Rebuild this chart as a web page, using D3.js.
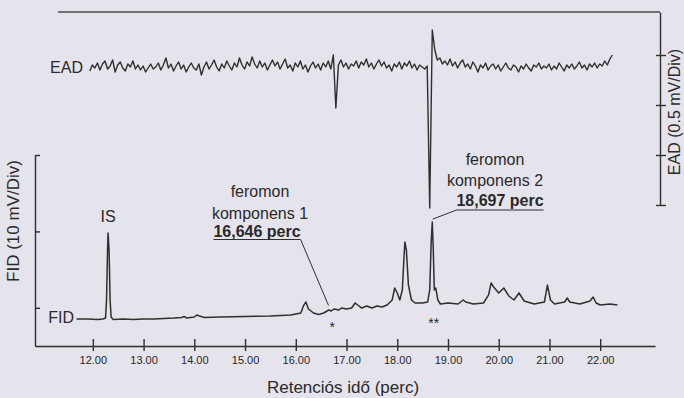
<!DOCTYPE html>
<html>
<head>
<meta charset="utf-8">
<script src="https://cdn.jsdelivr.net/npm/d3@7"></script>
<style>
  html, body { margin: 0; padding: 0; background: #e5e3eb; }
  svg { display: block; font-family: "Liberation Sans", Arial, sans-serif; }
  .axis path, .axis line { stroke: #2f2f2f; stroke-width: 1.4; }
  .axis text { fill: #262626; font-size: 11px; }
</style>
</head>
<body>
<svg id="chart" width="684" height="398"></svg>
<script>
// x axis ticks (retention time, minutes)
const xTicks = [12, 13, 14, 15, 16, 17, 18, 19, 20, 21, 22];

// FID trace: retention time (min) and signal (mV)
const fidTime = [11.68, 11.90, 12.10, 12.20, 12.25, 12.27, 12.29, 12.30, 12.32, 12.34, 12.36, 12.40,
  12.60, 12.80, 13.00, 13.20, 13.40, 13.60, 13.75, 13.80, 13.85, 14.00, 14.05, 14.10, 14.20,
  14.50, 15.00, 15.50, 15.90, 16.10, 16.15, 16.20, 16.25, 16.35, 16.45, 16.55, 16.65, 16.70,
  16.75, 16.85, 16.90, 17.00, 17.10, 17.17, 17.22, 17.30, 17.40, 17.50, 17.60, 17.70, 17.80,
  17.90, 17.95, 18.00, 18.05, 18.10, 18.13, 18.15, 18.18, 18.22, 18.28, 18.35, 18.50, 18.60,
  18.64, 18.67, 18.69, 18.71, 18.73, 18.76, 18.80, 18.85, 19.00, 19.20, 19.30, 19.35, 19.50,
  19.70, 19.80, 19.85, 19.90, 20.00, 20.10, 20.20, 20.30, 20.40, 20.50, 20.70, 20.90, 20.96,
  21.02, 21.10, 21.30, 21.35, 21.40, 21.60, 21.80, 21.86, 21.92, 22.00, 22.20, 22.34];
const fidSignal = [8.53, 8.53, 8.47, 8.53, 8.66, 11.02, 17.57, 19.79, 17.57, 11.02, 8.80, 8.47,
  8.53, 8.47, 8.53, 8.53, 8.60, 8.66, 8.73, 8.86, 8.66, 8.80, 9.06, 8.93, 8.73,
  8.80, 8.86, 8.93, 9.06, 9.32, 10.24, 10.76, 9.84, 9.32, 9.12, 9.32, 9.71, 9.58,
  9.84, 9.71, 9.97, 9.84, 9.97, 10.63, 10.37, 9.97, 10.24, 9.97, 10.24, 10.10, 10.37,
  11.02, 12.59, 11.94, 11.02, 12.33, 16.26, 18.61, 17.57, 12.98, 11.02, 10.63, 10.63, 10.76,
  12.33, 18.87, 21.23, 17.57, 12.33, 12.59, 11.02, 10.50, 10.63, 10.50, 11.02, 10.76, 10.50,
  10.63, 11.68, 13.25, 12.72, 11.94, 12.59, 11.54, 11.02, 11.94, 10.89, 10.50, 10.76, 12.98,
  11.02, 10.50, 10.76, 11.28, 10.76, 10.50, 10.89, 11.41, 10.63, 10.37, 10.50, 10.37];

// EAD trace: one reading every 0.05 min from 11.94 min (mV)
const eadStart = 11.94;
const eadStep = 0.05;
const eadSignal = [
  1.34, 1.40, 1.37, 1.42, 1.35, 1.41, 1.44, 1.36, 1.39, 1.45, 1.33, 1.40, 1.43, 1.37, 1.34, 1.41, 1.38, 1.44, 1.36, 1.40,
  1.35, 1.39, 1.33, 1.37, 1.41, 1.36, 1.38, 1.42, 1.35, 1.40, 1.47, 1.37, 1.41, 1.34, 1.39, 1.43, 1.36, 1.40, 1.33, 1.38,
  1.42, 1.37, 1.35, 1.41, 1.30, 1.38, 1.43, 1.36, 1.40, 1.45, 1.38, 1.34, 1.41, 1.37, 1.44, 1.39, 1.35, 1.42, 1.38, 1.47,
  1.40, 1.36, 1.43, 1.39, 1.48, 1.41, 1.37, 1.44, 1.38, 1.42, 1.35, 1.40, 1.45, 1.39, 1.43, 1.36, 1.41, 1.46, 1.37, 1.40,
  1.34, 1.42, 1.38, 1.44, 1.36, 1.40, 1.33, 1.39, 1.43, 1.37, 1.41, 1.35, 1.42, 1.38, 1.44, 1.36, 1.50, 0.97, 1.40, 1.45,
  1.38, 1.42, 1.36, 1.41, 1.39, 1.44, 1.37, 1.43, 1.40, 1.46, 1.38, 1.42, 1.36, 1.41, 1.45, 1.39, 1.43, 1.37, 1.40, 1.34,
  1.41, 1.38, 1.43, 1.36, 1.42, 1.39, 1.44, 1.37, 1.41, 1.35, 1.40, 1.38, 1.36, 1.39, -0.03, 1.75, 1.55, 1.45, 1.47, 1.41,
  1.44, 1.40, 1.46, 1.39, 1.43, 1.37, 1.42, 1.45, 1.38, 1.41, 1.36, 1.43, 1.39, 1.33, 1.40, 1.37, 1.42, 1.35, 1.39, 1.41,
  1.36, 1.40, 1.34, 1.38, 1.42, 1.37, 1.35, 1.40, 1.38, 1.33, 1.39, 1.36, 1.41, 1.37, 1.34, 1.40, 1.38, 1.42, 1.36, 1.39,
  1.37, 1.41, 1.35, 1.39, 1.36, 1.42, 1.38, 1.34, 1.40, 1.37, 1.41, 1.36, 1.39, 1.43, 1.37, 1.40, 1.35, 1.41, 1.38, 1.42,
  1.37, 1.41, 1.39, 1.44, 1.40, 1.46, 1.50];

// axis ticks (unlabelled divisions)
const fidTicks = [10, 20, 30];
const eadTicks = [0, 0.5, 1, 1.5];

const svg = d3.select("#chart");
const ink = "#2f2f2f";

const xScale = d3.scaleLinear().domain([10.86, 23.08]).range([35, 655]);
const yFid = d3.scaleLinear().domain([5, 30]).range([346, 155]);
const yEad = d3.scaleLinear().domain([0, 1.93]).range([205, 12]);

// x axis
const xAxis = svg.append("g")
  .attr("class", "axis")
  .attr("transform", "translate(0,346)")
  .call(d3.axisBottom(xScale).tickValues(xTicks).tickSize(5).tickSizeOuter(0)
    .tickPadding(5).tickFormat(d3.format(".2f")));
xAxis.selectAll(".tick line").attr("y1", -7);

// FID axis (left)
const fidAxis = svg.append("g")
  .attr("class", "axis")
  .attr("transform", "translate(35,0)")
  .call(d3.axisLeft(yFid).tickValues(fidTicks).tickSize(6).tickSizeOuter(0).tickFormat(""));
fidAxis.selectAll(".tick line").attr("x2", 5);

// EAD axis (right)
const eadAxis = svg.append("g")
  .attr("class", "axis")
  .attr("transform", "translate(660,0)")
  .call(d3.axisRight(yEad).tickValues(eadTicks).tickSize(6).tickSizeOuter(0).tickFormat(""));
eadAxis.selectAll(".tick line").attr("x1", -4);

// top frame line
svg.append("line")
  .attr("x1", 58).attr("x2", 660)
  .attr("y1", yEad(1.93)).attr("y2", yEad(1.93))
  .attr("stroke", "#4a4a4a").attr("stroke-width", 1.6);

// traces
const fidData = fidTime.map((t, i) => [t, fidSignal[i]]);
const eadData = eadSignal.map((v, i) => [eadStart + i * eadStep, v]);

svg.append("path")
  .datum(fidData)
  .attr("fill", "none")
  .attr("stroke", ink)
  .attr("stroke-width", 1.5)
  .attr("stroke-linejoin", "round")
  .attr("d", d3.line().x(d => xScale(d[0])).y(d => yFid(d[1])));

svg.append("path")
  .datum(eadData)
  .attr("fill", "none")
  .attr("stroke", ink)
  .attr("stroke-width", 1.4)
  .attr("stroke-linejoin", "round")
  .attr("d", d3.line().x(d => xScale(d[0])).y(d => yEad(d[1])));

// text labels
const txt = (x, y, s, opts = {}) => svg.append("text")
  .attr("x", x).attr("y", y)
  .attr("fill", "#2a2a2a")
  .attr("font-size", opts.size || 16)
  .attr("font-weight", opts.weight || "normal")
  .attr("text-anchor", opts.anchor || "middle")
  .text(s);

txt(343, 393, "Retenciós idő (perc)", { size: 17 });

svg.append("text")
  .attr("transform", "translate(19,221) rotate(-90)")
  .attr("text-anchor", "middle")
  .attr("fill", "#2a2a2a").attr("font-size", 17)
  .text("FID (10 mV/Div)");

svg.append("text")
  .attr("transform", "translate(680,112) rotate(-90)")
  .attr("text-anchor", "middle")
  .attr("fill", "#2a2a2a").attr("font-size", 16)
  .text("EAD (0.5 mV/Div)");

txt(83, 73, "EAD", { anchor: "end" });
txt(74, 323, "FID", { anchor: "end" });
txt(xScale(12.3), 222, "IS");

// pheromone component 1
txt(260, 197, "feromon");
txt(260, 219, "komponens 1");
const lab1 = txt(257, 237, "16,646 perc", { weight: "bold" });
const w1 = lab1.node().getComputedTextLength();
svg.append("line")
  .attr("x1", 257 - w1 / 2).attr("x2", 257 + w1 / 2)
  .attr("y1", 239.5).attr("y2", 239.5)
  .attr("stroke", ink).attr("stroke-width", 1.2);
svg.append("line")
  .attr("x1", 257 + w1 / 2).attr("y1", 239.5)
  .attr("x2", xScale(16.646)).attr("y2", yFid(10.3))
  .attr("stroke", ink).attr("stroke-width", 1);

// pheromone component 2
txt(495, 165, "feromon");
txt(495, 186, "komponens 2");
const lab2 = txt(500, 206, "18,697 perc", { weight: "bold" });
const w2 = lab2.node().getComputedTextLength();
svg.append("line")
  .attr("x1", 500 - w2 / 2).attr("x2", 500 + w2 / 2)
  .attr("y1", 210).attr("y2", 210)
  .attr("stroke", ink).attr("stroke-width", 1.2);
svg.append("line")
  .attr("x1", 500 - w2 / 2).attr("y1", 210)
  .attr("x2", xScale(18.697)).attr("y2", yFid(21.6))
  .attr("stroke", ink).attr("stroke-width", 1);

// asterisks marking the EAD-active peaks
txt(xScale(16.72), 332, "*", { size: 14 });
txt(xScale(18.72), 328, "**", { size: 14 });
</script>
</body>
</html>
